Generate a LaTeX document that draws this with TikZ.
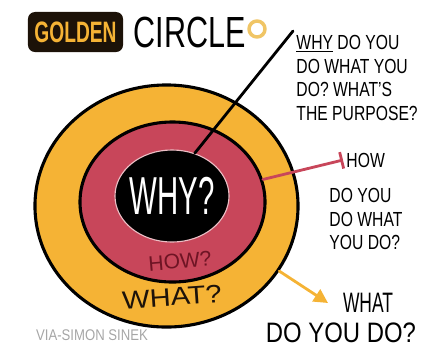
\documentclass[tikz,border=0pt]{standalone}
\usepackage{fontspec}
\setmainfont{Liberation Sans}
\usepackage{graphicx}
\usetikzlibrary{arrows.meta,positioning,shapes}
\definecolor{gold}{HTML}{F5B335}
\definecolor{rose}{HTML}{C8465A}
\definecolor{wine}{HTML}{6E1424}
\definecolor{pale}{HTML}{F0C565}
\definecolor{ink}{HTML}{1C1208}
\tikzset{
golden/.style={x=0.025cm,y=-0.025cm,line join=round},
ring/.style={ellipse,draw=black,line width=2.2pt,inner sep=0},
core/.style={ellipse,fill=black,draw=rose!35!white,line width=0.8pt,inner sep=0},
note/.style={font=\fontsize{14.5}{16.8}\selectfont,xscale=0.77,align=left,
inner sep=3pt,anchor=north west},
big note/.style={font=\fontsize{20}{24}\selectfont,xscale=0.85,inner sep=2pt},
pointer/.style={line width=2pt,line cap=round},
}
\begin{document}
\begin{tikzpicture}[golden]
\useasboundingbox (0,0) rectangle (425,350);
% title
\node[fill=ink,rounded corners=5pt,text=gold,minimum width=2.375cm,minimum height=1cm,
font=\bfseries\fontsize{21}{21}\selectfont] (title) at (75.5,32) {\scalebox{0.65}[1]{GOLDEN}};
\node[font=\fontsize{31}{31}\selectfont,inner sep=0,right=0.25cm of title] (titleword) {\scalebox{0.7}[1]{CIRCLE}};
\node[circle,draw=pale,line width=2.5pt,minimum size=0.4cm,inner sep=0] (titledot) at (257,29) {};

% the three circles
\node[ring,fill=gold,minimum width=6.575cm,minimum height=6.05cm] (what) at (166.5,206) {};
\node[ring,fill=rose,minimum width=4.625cm,minimum height=4cm] (how) at (172.5,202) {};
\node[core,minimum width=2.85cm,minimum height=2.3cm] (why) at (172,196) {};
\node[text=white,font=\fontsize{38}{38}\selectfont] (whyword) at (why) {\scalebox{0.55}[1]{WHY?}};
\node[text=wine,font=\fontsize{15}{15}\selectfont,rotate=5] (howword) at (180,261) {HOW?};
\node[text=black!85!brown,font=\fontsize{18}{18}\selectfont,rotate=4] (whatword) at (172,297) {\scalebox{1.15}[1]{WHAT?}};

% questions
\coordinate (whytip) at (293,31);
\node[note] (whytext) at (whytip) {\underline{WHY} DO YOU\\DO WHAT YOU\\DO? WHAT'S\\THE PURPOSE?};
\node[note,anchor=west] (howhead) at (343,160) {HOW};
\node[note] (howtext) at (326,184) {DO YOU\\DO WHAT\\YOU DO?};
\node[big note,anchor=west,xscale=0.73,inner xsep=17pt] (whathead) at (328,303) {WHAT};
\node[big note] (whattext) at (341,333) {DO YOU DO?};

\draw[pointer] (why.62) -- (whytip);
\draw[pointer,draw=rose,-{Bar[width=12pt]}] (how.14) -- (howhead.west);
\draw[pointer,draw=gold,-{Triangle[length=10pt,width=10pt]}] (what.-30) -- (whathead.west);

\node[text=black!35,font=\fontsize{11}{11}\selectfont] (credit) at (92,335) {\scalebox{0.85}[1]{VIA-SIMON SINEK}};
\end{tikzpicture}
\end{document}
